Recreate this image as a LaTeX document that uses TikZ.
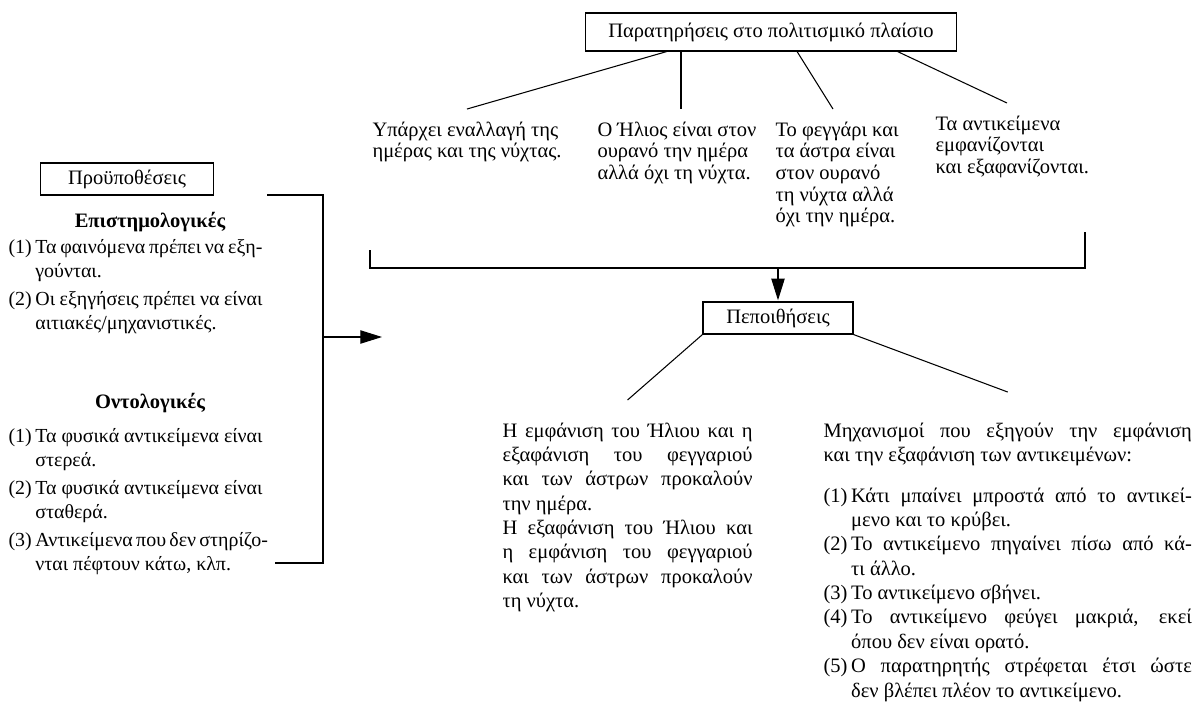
\documentclass[tikz,border=0pt]{standalone}
\usepackage{fontspec}
\setmainfont{Liberation Serif}
\usetikzlibrary{arrows.meta,positioning,calc}

% justified and numbered lines
\newcommand{\fullline}[1]{\makebox[\linewidth][s]{\spaceskip=0pt\relax#1}}
\newcommand{\numline}[2]{\makebox[1.35em][l]{(#1)}\makebox[\dimexpr\linewidth-1.35em\relax][s]{\spaceskip=0pt\relax#2}}
\newcommand{\numlast}[2]{\makebox[1.35em][l]{(#1)}#2}
\newcommand{\contline}[1]{\hspace*{1.35em}#1}

\begin{document}
\begin{tikzpicture}[x=0.03cm,y=-0.03cm,line width=0.9pt,
	>={Triangle[length=6.5mm,width=4mm]},
	every node/.style={execute at begin node={\spaceskip=0pt\xspaceskip=0pt\relax}},
	frame/.style={draw,inner sep=0pt,minimum height=0.96cm,font=\fontsize{17.5}{21}\selectfont},
	obsitem/.style={inner sep=0pt,anchor=base west,text width=6.5cm,font=\fontsize{17.5}{18.5}\selectfont},
	listtext/.style={inner sep=0pt,anchor=base west,font=\fontsize{17.5}{20.8}\selectfont},
	heading/.style={inner sep=0pt,anchor=base,font=\fontsize{17.5}{21}\selectfont\bfseries}]
				\useasboundingbox (0,0) rectangle (1196,722);
				
				% Observations
				\node[frame,minimum width=11.13cm,minimum height=1.14cm] (obs) at (771,32) {Παρατηρήσεις στο πολιτισμικό πλαίσιο};
				\node[obsitem] (day) at (372,136) {Υπάρχει εναλλαγή της\\ημέρας και της νύχτας.};
				\node[obsitem] (sun) at (597,136) {Ο Ήλιος είναι στον\\ουρανό την ημέρα\\αλλά όχι τη νύχτα.};
				\node[obsitem] (moon) at (775,136) {Το φεγγάρι και\\τα άστρα είναι\\στον ουρανό\\τη νύχτα αλλά\\όχι την ημέρα.};
				\node[obsitem] (obj) at (935,130) {Τα αντικείμενα\\εμφανίζονται\\και εξαφανίζονται.};
				
				% Edges from the observations
				\foreach \pos/\item/\dx in {0.22/day/95,0.57/moon/58,0.84/obj/72}
				\draw ($(obs.south west)!\pos!(obs.south east)$) -- ($(\item.north west)+(\dx,-12)$);
				\coordinate (sunc) at ($(sun.north west)+(84,-12)$);
				\draw (sunc |- obs.south) -- (sunc);
				
				% Bracket and arrow to the beliefs
				\coordinate (brl) at (370,250);
				\coordinate (brr) at (1085,232);
				\coordinate (brb) at (778,268);
				\draw (brl) -- (brl |- brb) -- (brr |- brb) -- (brr);
				
				% Beliefs
				\node[frame,minimum width=4.5cm] (bel) at (778,318) {Πεποιθήσεις};
				\draw[->,shorten >=1pt] (bel.north |- brb) -- (bel.north);
				
				\node[listtext,text width=7.5cm] (eff) at (502,437) {%
					\fullline{Η εμφάνιση του Ήλιου και η}\\
					\fullline{εξαφάνιση του φεγγαριού}\\
					\fullline{και των άστρων προκαλούν}\\
					την ημέρα.\\
					\fullline{Η εξαφάνιση του Ήλιου και}\\
					\fullline{η εμφάνιση του φεγγαριού}\\
					\fullline{και των άστρων προκαλούν}\\
					τη νύχτα.};
				\node[listtext,text width=11.05cm] (mech) at (823,437) {%
					\fullline{Μηχανισμοί που εξηγούν την εμφάνιση}\\
					και την εξαφάνιση των αντικειμένων:\\[14pt]
					\numline{1}{Κάτι μπαίνει μπροστά από το αντικεί-}\\
					\contline{μενο και το κρύβει.}\\
					\numline{2}{Το αντικείμενο πηγαίνει πίσω από κά-}\\
					\contline{τι άλλο.}\\
					\numlast{3}{Το αντικείμενο σβήνει.}\\
					\numline{4}{Το αντικείμενο φεύγει μακριά, εκεί}\\
					\contline{όπου δεν είναι ορατό.}\\
					\numline{5}{Ο παρατηρητής στρέφεται έτσι ώστε}\\
					\contline{δεν βλέπει πλέον το αντικείμενο.}};
				\draw (bel.south west) -- ($(eff.north)+(0,-22)$);
				\draw (bel.south east) -- ($(mech.north)+(0,-30)$);
				
				% Presuppositions
				\node[frame,minimum width=5.19cm] (pre) at (127,179) {Προϋποθέσεις};
				\node[heading] (epi) at (150,227) {Επιστημολογικές};
				\node[listtext,text width=7.62cm,font=\fontsize{17}{20.8}\selectfont] (epil) at (8,253) {%
					\numline{1}{Τα φαινόμενα πρέπει να εξη-}\\
					\contline{γούνται.}\\[3pt]
					\numline{2}{Οι εξηγήσεις πρέπει να είναι}\\
					\contline{αιτιακές/μηχανιστικές.}};
				\node[heading] (ont) at (150,408) {Οντολογικές};
				\node[listtext,text width=7.62cm,font=\fontsize{17}{20.8}\selectfont] (ontl) at (8,442) {%
					\numline{1}{Τα φυσικά αντικείμενα είναι}\\
					\contline{στερεά.}\\[3pt]
					\numline{2}{Τα φυσικά αντικείμενα είναι}\\
					\contline{σταθερά.}\\[3pt]
					\numline{3}{Αντικείμενα που δεν στηρίζο-}\\
					\contline{νται πέφτουν κάτω, κλπ.}};
				
				% Bracket and arrow to the right
				\coordinate (lt) at (267,195);
				\coordinate (lb) at (275,563);
				\coordinate (lx) at (323,337);
				\coordinate (ltip) at (382,337);
				\draw (lt) -- (lt -| lx) -- (lb -| lx) -- (lb);
				\draw[->] (lx) -- (ltip);
			\end{tikzpicture}
\end{document}
